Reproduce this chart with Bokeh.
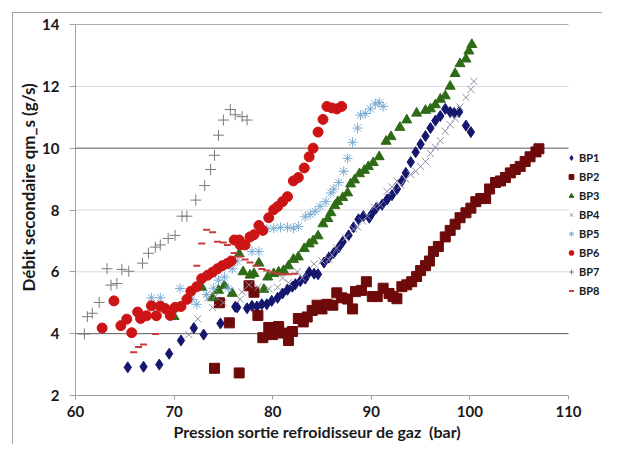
from bokeh.plotting import figure
from bokeh.models import Legend, LegendItem, Title, FixedTicker, Range1d
from bokeh.embed import file_html
from bokeh.resources import INLINE

# ---------------- data ----------------
bp1_x = [65.3, 66.9, 68.5, 69.5, 70.7, 72.0, 73.0, 74.7, 76.2, 76.4, 77.4, 77.9, 78.4, 78.9, 79.4, 79.9,
         80.5, 81.0, 81.5, 82.0, 82.3, 82.8, 83.3, 83.7, 84.2, 84.6, 85.2, 85.7, 86.2, 86.7, 87.1, 87.7,
         88.2, 88.7, 89.2, 89.8, 90.1, 90.5, 91.1, 91.6, 92.1, 92.6, 93.1, 93.5, 94.0, 94.5, 95.0, 95.5,
         96.0, 96.5, 97.0, 97.5, 98.0, 98.4, 98.9, 99.6, 100.1]
bp1_y = [2.91, 2.93, 3.0, 3.35, 3.78, 4.18, 3.97, 4.33, 4.87, 4.85, 4.82, 4.9, 4.88, 4.95, 4.95, 5.06,
         5.16, 5.3, 5.42, 5.52, 5.6, 5.7, 5.78, 5.99, 5.94, 5.92, 6.3, 6.46, 6.61, 6.79, 6.97, 7.18,
         7.44, 7.7, 7.8, 7.75, 7.9, 8.06, 8.17, 8.34, 8.48, 8.68, 8.94, 9.2, 9.55, 9.87, 10.13, 10.39,
         10.65, 10.89, 11.04, 11.27, 11.17, 11.14, 11.17, 10.73, 10.52]

bp2_x = [74.1, 74.6, 75.6, 76.6, 77.6, 78.1, 78.5, 79.0, 79.6, 80.0, 80.6, 81.1, 81.6, 82.0, 82.6, 83.1,
         83.5, 84.0, 84.5, 85.0, 85.5, 86.1, 86.5, 87.0, 87.6, 88.1, 88.4, 89.0, 89.5, 90.1, 90.6, 91.2,
         91.8, 92.2, 92.6, 93.1, 93.6, 94.1, 94.6, 95.0, 95.5, 95.9, 96.3, 96.8, 97.5, 98.0, 98.5, 99.0,
         99.6, 100.1, 100.6, 101.1, 101.6, 102.0, 102.6, 103.1, 103.6, 104.1, 104.6, 105.1, 105.6, 106.1,
         106.7, 107.0]
bp2_y = [2.88, 5.0, 4.35, 2.73, 5.55, 5.34, 4.59, 3.87, 4.2, 3.97, 4.23, 4.02, 3.78, 4.07, 4.49, 4.38,
         4.54, 4.75, 4.92, 4.8, 4.95, 4.92, 5.32, 5.16, 5.12, 4.8, 5.36, 5.4, 5.68, 5.2, 5.2, 5.47,
         5.3, 5.2, 5.13, 5.52, 5.58, 5.68, 5.85, 6.04, 6.2, 6.35, 6.66, 6.82, 7.13, 7.34, 7.54, 7.75,
         7.91, 8.06, 8.27, 8.37, 8.37, 8.68, 8.89, 8.94, 9.05, 9.2, 9.31, 9.41, 9.57, 9.72,
         9.88, 9.98]

bp3_x = [70.0, 72.8, 73.9, 74.5, 75.1, 75.9, 76.6, 77.0, 77.7, 78.1, 78.6, 79.1, 79.5, 80.1, 80.6, 81.1,
         81.6, 82.1, 82.6, 83.2, 83.7, 84.1, 84.6, 85.1, 85.6, 85.9, 86.3, 86.6, 87.1, 87.6, 87.9, 88.3,
         88.8, 89.3, 89.7, 90.2, 90.8, 91.5, 92.0, 92.9, 93.6, 94.6, 95.5, 96.0, 96.5, 97.0, 97.5, 98.0,
         98.5, 99.0, 99.6, 99.9, 100.2]
bp3_y = [4.55, 5.5, 5.16, 5.4, 5.55, 5.3, 6.58, 6.0, 5.89, 5.94, 6.28, 5.43, 5.83, 5.94, 5.99, 6.04,
         6.19, 6.4, 6.48, 6.75, 6.9, 7.0, 7.16, 7.55, 7.72, 7.91, 8.14, 8.27, 8.4, 8.55, 8.84, 8.97,
         9.17, 9.28, 9.4, 9.53, 9.72, 10.22, 10.37, 10.67, 10.91, 11.13, 11.22, 11.27, 11.4, 11.58, 11.69, 12.0,
         12.41, 12.73, 12.88, 13.14, 13.35]

bp4_x = [71.5, 72.4, 73.4, 73.9, 74.2, 75.0, 76.7, 76.9, 77.6, 78.5, 79.6, 80.5, 81.0, 81.6, 82.5, 83.0,
         84.2, 85.0, 85.7, 86.0, 86.5, 87.4, 88.2, 88.6, 89.1, 89.6, 90.3, 90.9, 91.6, 92.1, 92.6, 93.0,
         93.5, 94.0, 94.5, 95.0, 95.5, 96.0, 96.5, 97.0, 97.5, 98.0, 98.5, 99.0, 99.6, 100.1, 100.4]
bp4_y = [3.97, 4.48, 5.15, 4.85, 5.21, 5.0, 5.11, 5.35, 5.58, 5.5, 5.45, 5.5, 5.8, 5.65, 6.0, 5.8,
         6.25, 6.35, 6.4, 6.55, 6.77, 7.1, 7.39, 7.45, 7.65, 7.8, 8.1, 8.17, 8.6, 8.75, 8.94, 8.8,
         9.0, 9.15, 9.25, 9.41, 9.57, 9.83, 10.03, 10.24, 10.55, 10.76, 10.96, 11.33, 11.64, 11.9, 12.16]

bp5_x = [67.7, 68.6, 70.6, 71.8, 72.3, 73.3, 74.0, 74.5, 75.1, 75.5, 75.9, 76.4, 77.9, 78.6, 79.4, 80.1,
         80.8, 81.5, 82.1, 82.6, 83.3, 83.8, 84.3, 84.8, 85.4, 85.9, 86.2, 86.7, 87.2, 87.6, 88.1, 88.6,
         88.9, 89.4, 89.9, 90.4, 90.8, 91.2]
bp5_y = [5.16, 5.16, 5.46, 5.11, 4.95, 5.27, 5.47, 5.73, 5.83, 5.47, 6.1, 6.35, 6.66, 6.66, 7.39, 7.41,
         7.44, 7.44, 7.41, 7.47, 7.78, 7.86, 7.96, 8.12, 8.27, 8.55, 8.68, 8.89, 9.25, 9.67, 10.19, 10.65,
         11.07, 11.12, 11.27, 11.43, 11.48, 11.35]

bp6_x = [62.7, 63.9, 64.6, 65.2, 65.7, 66.3, 66.6, 67.2, 67.7, 68.2, 68.6, 69.1, 69.6, 70.1, 70.7, 71.3,
         71.7, 72.3, 72.8, 73.4, 73.9, 74.4, 74.9, 75.4, 75.8, 76.1, 76.6, 76.7, 77.2, 77.7, 78.1, 78.6,
         79.0, 79.6, 80.1, 80.5, 81.0, 81.5, 82.1, 82.6, 83.2, 83.7, 84.1, 84.6, 85.1, 85.5, 86.0, 86.5,
         87.0]
bp6_y = [4.18, 5.06, 4.26, 4.47, 4.03, 4.7, 4.49, 4.58, 4.9, 4.58, 4.89, 4.81, 4.59, 4.85, 4.88, 5.11,
         5.37, 5.52, 5.78, 5.89, 5.99, 6.1, 6.2, 6.27, 6.35, 7.03, 7.03, 6.87, 6.87, 7.13, 7.2, 7.5,
         7.34, 7.75, 8.01, 8.11, 8.27, 8.43, 8.94, 9.05, 9.36, 9.72, 10.0, 10.52, 10.93, 11.35, 11.3, 11.27,
         11.35]

bp7_x = [60.9, 61.2, 61.7, 62.4, 63.2, 63.6, 64.2, 64.7, 65.4, 66.8, 67.4, 68.1, 68.6, 69.4, 70.1, 70.8,
         71.3, 72.2, 73.1, 73.7, 74.1, 74.5, 75.0, 75.7, 76.2, 76.9, 77.4]
bp7_y = [3.99, 4.55, 4.66, 5.01, 6.1, 5.57, 5.62, 6.08, 6.02, 6.28, 6.6, 6.8, 6.87, 7.08, 7.18, 7.8,
         7.8, 8.32, 8.79, 9.31, 9.77, 10.42, 10.91, 11.25, 11.08, 11.02, 10.91]

bp8_x = [65.9, 66.4, 66.9, 68.1, 72.3, 72.8, 73.3, 73.9, 74.4, 75.0, 75.4, 76.1, 76.6, 77.2, 77.7, 78.3,
         78.9, 79.4, 80.0, 80.5, 81.0, 81.6, 82.2]
bp8_y = [3.4, 3.57, 3.65, 3.99, 6.2, 6.92, 7.36, 7.28, 6.97, 6.95, 6.87, 6.61, 6.5, 6.4, 6.3, 6.2,
         6.09, 6.04, 5.99, 5.95, 5.92, 5.92, 5.94]

series_names = ["BP1", "BP2", "BP3", "BP4", "BP5", "BP6", "BP7", "BP8"]

x_ticks = [60, 70, 80, 90, 100, 110]
y_ticks = [2, 4, 6, 8, 10, 12, 14]
dark_grid = [4, 10, 14]
light_grid = [6, 8, 12]

x_title = "Pression sortie refroidisseur de gaz\u00a0 (bar)"
y_title = "Débit secondaire qm_s (g/s)"

FONT = "Lato"

# ---------------- layout numbers (pixels) ----------------
W, H = 590, 432            # canvas size (plus 13px left / 13px top of margin+border = 603 x 445)
LEFT, TOP, BOTTOM = 62, 11, 50
PLOT_W = 493               # pixel width that spans x_ticks[0] .. x_ticks[-1]
frame_w = W - LEFT
x_lo, x_hi = x_ticks[0], x_ticks[-1]
x_end = x_hi + (frame_w - PLOT_W) * (x_hi - x_lo) / PLOT_W   # spare room on the right for the legend

p = figure(width=W, height=H, output_backend="svg", toolbar_location=None,
           x_range=Range1d(x_lo, x_end), y_range=Range1d(y_ticks[0], y_ticks[-1]),
           min_border_left=LEFT, min_border_right=0, min_border_top=TOP, min_border_bottom=BOTTOM)
p.styles = {"margin-left": "12px", "margin-top": "12px",
            "border-left": "1px solid #a3a3a3", "border-top": "1px solid #a3a3a3"}
p.outline_line_color = None
p.background_fill_color = "white"
p.border_fill_color = "white"
p.xgrid.visible = False
p.ygrid.visible = False

# horizontal gridlines, limited to the x axis extent
p.segment(x0=[x_lo] * len(dark_grid), x1=[x_hi] * len(dark_grid), y0=dark_grid, y1=dark_grid,
          line_color="#5a5a5a", line_width=1, level="underlay")
p.segment(x0=[x_lo] * len(light_grid), x1=[x_hi] * len(light_grid), y0=light_grid, y1=light_grid,
          line_color="#d9d9d9", line_width=1, level="underlay")

for ax in (p.xaxis[0], p.yaxis[0]):
    ax.axis_line_color = "#a0a0a0"
    ax.major_tick_line_color = "#a0a0a0"
    ax.minor_tick_line_color = None
    ax.major_tick_in = 0
    ax.major_label_text_font = FONT
    ax.major_label_text_font_style = "bold"
    ax.major_label_text_font_size = "15px"
    ax.major_label_text_color = "#1a1a1a"

p.xaxis.ticker = FixedTicker(ticks=x_ticks)
p.yaxis.ticker = FixedTicker(ticks=y_ticks)
p.xaxis.bounds = (x_lo, x_hi)
p.xaxis.major_tick_out = 4
p.yaxis.major_tick_out = 6
p.xaxis.major_label_standoff = 6
p.yaxis.major_label_standoff = 10

# axis titles (x title placed under the 60..110 span rather than the wider frame)
p.add_layout(Title(text=x_title, align="left", offset=98, standoff=0,
                   text_font=FONT, text_font_style="bold", text_font_size="16px",
                   text_color="#1a1a1a"), "below")
p.add_layout(Title(text=y_title, align="left", offset=104, standoff=2,
                   text_font=FONT, text_font_style="bold", text_font_size="17px",
                   text_color="#1a1a1a"), "left")

# ---------------- series ----------------
r1 = p.scatter(bp1_x, bp1_y, marker="diamond", size=11, fill_color="#15166e", line_color="#15166e")
r2 = p.scatter(bp2_x, bp2_y, marker="square", size=10, fill_color="#6e0a0a", line_color="#6e0a0a")
r3 = p.scatter(bp3_x, bp3_y, marker="triangle", size=10, fill_color="#2e6b16", line_color="#2e6b16")
r4 = p.scatter(bp4_x, bp4_y, marker="x", size=10, line_color="#8e8ea6", line_width=1)
r5 = p.scatter(bp5_x, bp5_y, marker="asterisk", size=10, line_color="#78acd4", line_width=1)
r6 = p.scatter(bp6_x, bp6_y, marker="circle", size=10, fill_color="#cc1414", line_color="#cc1414")
r7 = p.scatter(bp7_x, bp7_y, marker="cross", size=11, line_color="#7a7a7a", line_width=1)
r8 = p.scatter(bp8_x, bp8_y, marker="dash", size=7, line_color="#c83c3c", line_width=2)

renderers = [r1, r2, r3, r4, r5, r6, r7, r8]
legend = Legend(items=[LegendItem(label=n, renderers=[r]) for n, r in zip(series_names, renderers)],
                location=(490, 97), orientation="vertical",
                background_fill_alpha=0, border_line_color=None,
                padding=0, margin=0, spacing=4, glyph_width=12, glyph_height=15,
                label_height=15, label_standoff=2,
                label_text_font=FONT, label_text_font_style="bold", label_text_font_size="11px",
                label_text_color="#1a1a1a")
p.add_layout(legend)

open("out.html", "w").write(file_html(p, INLINE))
